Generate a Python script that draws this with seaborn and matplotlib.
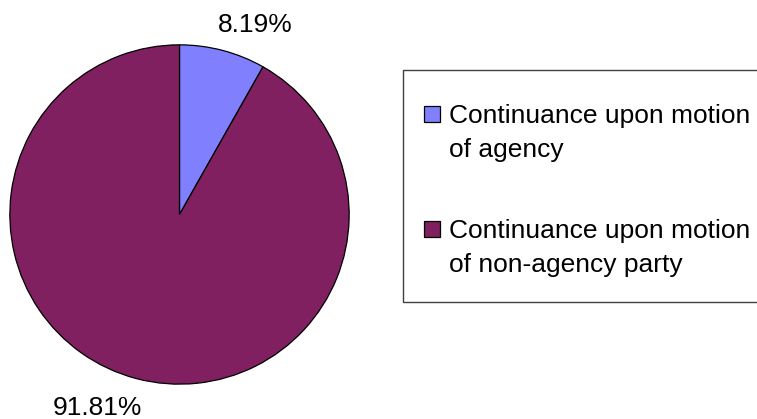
import matplotlib
matplotlib.use("Agg")
import matplotlib.pyplot as plt
import seaborn as sns
from matplotlib.patches import Rectangle

sns.set_style("white")
plt.rcParams["font.family"] = ["Liberation Sans", "DejaVu Sans"]
plt.rcParams["text.color"] = "black"

# data
categories = ["Continuance upon motion\nof agency",
              "Continuance upon motion\nof non-agency party"]
shares = [8.19, 91.81]
colors = ["#8080ff", "#802060"]

W, H = 757, 419


def fx(x):
    return x / W


def fy(y):
    return 1 - y / H


fig = plt.figure(figsize=(W / 100, H / 100), dpi=100)

# pie area (pixels: left 9, right 350, top 44, bottom 385)
ax = fig.add_axes([fx(9), fy(385), 341 / W, 341 / H])
ax.pie(shares, colors=colors, startangle=90, counterclock=False,
       wedgeprops=dict(edgecolor="black", linewidth=0.9))
ax.set_xlim(-1.005, 1.005)
ax.set_ylim(-1.005, 1.005)
ax.set_aspect("equal")
ax.axis("off")

# percentage labels
label_pos = [(255, 32), (97, 415)]
for v, (x, y) in zip(shares, label_pos):
    fig.text(fx(x), fy(y), f"{v:.2f}%", ha="center", va="baseline",
             fontsize=19, color="black")

# legend box drawn by hand so the swatch sits on the first line
fig.patches.append(Rectangle((fx(403), fy(302)), fx(400), 232 / H,
                             transform=fig.transFigure, facecolor="white",
                             edgecolor="#404040", linewidth=1.0))
entry_top = [106, 221]
for lab, col, top in zip(categories, colors, entry_top):
    fig.patches.append(Rectangle((fx(424), fy(top + 16)), 16 / W, 16 / H,
                                 transform=fig.transFigure, facecolor=col,
                                 edgecolor="black", linewidth=0.9))
    for i, line in enumerate(lab.split("\n")):
        fig.text(fx(449), fy(top + 17 + i * 34), line, ha="left",
                 va="baseline", fontsize=19, color="black")

fig.savefig("out.png", dpi=100)
